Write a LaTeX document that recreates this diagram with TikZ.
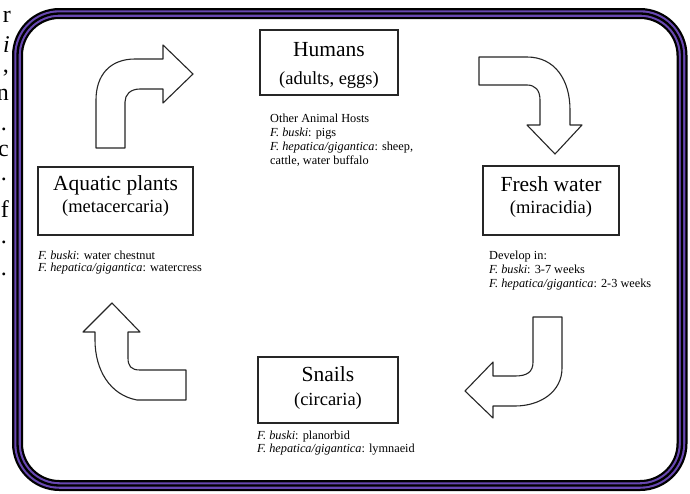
\documentclass[tikz,border=0pt]{standalone}
\usepackage{fontspec}
\setmainfont{Liberation Serif}
\definecolor{framepurple}{RGB}{104,72,178}
\tikzset{
  boxst/.style={draw=black!85, line width=1.6pt, fill=white, inner sep=0pt},
  titlest/.style={inner sep=0pt, anchor=base, font=\fontsize{21.5}{25}\selectfont},
  subst/.style={inner sep=0pt, anchor=base, font=\fontsize{18.5}{22}\selectfont},
  notest/.style={inner sep=0pt, anchor=base west, font=\fontsize{12.3}{14}\selectfont},
  arrowshape/.style={draw=black!85, line width=1.1pt, fill=white, line join=round},
  edgest/.style={inner sep=0pt, anchor=base east, font=\fontsize{24}{28}\selectfont}
}
\begin{document}
\begin{tikzpicture}[x=1pt,y=-1pt]
\useasboundingbox (0,0) rectangle (690,493);
\fill[white] (0,0) rectangle (690,493);

% cut-off text column at the left edge
\begin{scope}
\clip (0,0) rectangle (10,493);
\node[edgest] (e1) at (11,22) {r};
\node[edgest] (e2) at (10,52) {\itshape i};
\node[edgest] (e3) at (9,72) {,};
\node[edgest] (e4) at (9,100) {n};
\node[edgest] (e5) at (7,130) {.};
\node[edgest] (e6) at (9,156) {c};
\node[edgest] (e7) at (7,180) {.};
\node[edgest] (e8) at (9,217) {f};
\node[edgest] (e9) at (7,243) {.};
\node[edgest] (e10) at (7,275) {.};
\end{scope}

% frame
\draw[line width=11pt, black, rounded corners=42pt] (17.5,13.5) rectangle (682,485.5);
\draw[line width=6.5pt, framepurple, rounded corners=42pt] (17.5,13.5) rectangle (682,485.5);
\draw[line width=2.3pt, black, rounded corners=42pt] (17.5,13.5) rectangle (682,485.5);

% boxes
\node[boxst, minimum width=138pt, minimum height=65pt] (hum) at (329,62.5) {};
\node[titlest] (humT) at (329,56) {Humans};
\node[subst] (humS) at (329,84) {(adults, eggs)};

\node[boxst, minimum width=136pt, minimum height=69pt] (fw) at (551,200.5) {};
\node[titlest] (fwT) at (551,191) {Fresh water};
\node[subst] (fwS) at (551,213) {(miracidia)};

\node[boxst, minimum width=155pt, minimum height=68pt] (aq) at (115.5,201) {};
\node[titlest] (aqT) at (115.5,190) {Aquatic plants};
\node[subst] (aqS) at (115.5,212) {(metacercaria)};

\node[boxst, minimum width=140pt, minimum height=66pt] (sn) at (328,390) {};
\node[titlest] (snT) at (328,381) {Snails};
\node[subst] (snS) at (328,405) {(circaria)};

% notes
\node[notest] (h1) at (270,122) {Other Animal Hosts};
\node[notest] (h2) at (270,136) {\textit{F. buski}: pigs};
\node[notest] (h3) at (270,150) {\textit{F. hepatica/gigantica}: sheep,};
\node[notest] (h4) at (270,164) {cattle, water buffalo};

\node[notest] (f1) at (489,259) {Develop in:};
\node[notest] (f2) at (489,273) {\textit{F. buski}: 3-7 weeks};
\node[notest] (f3) at (489,287) {\textit{F. hepatica/gigantica}: 2-3 weeks};

\node[notest] (a1) at (38,259) {\textit{F. buski}: water chestnut};
\node[notest] (a2) at (38,271) {\textit{F. hepatica/gigantica}: watercress};

\node[notest] (s1) at (257,439) {\textit{F. buski}: planorbid};
\node[notest] (s2) at (257,452) {\textit{F. hepatica/gigantica}: lymnaeid};

% block arrows
\draw[arrowshape] (96,148) -- (96,100) .. controls (96,75) and (110,59) .. (135,59)
  -- (163,59) -- (163,45) -- (193,74) -- (163,103) -- (163,89) -- (140,89)
  .. controls (130,89) and (125,95) .. (125,102) -- (125,148) -- cycle;

\draw[arrowshape] (479,57) -- (527,57) .. controls (555,57) and (570,80) .. (570,110)
  -- (570,125) -- (582,125) -- (555,154) -- (527,125) -- (540,125) -- (540,100)
  .. controls (540,90) and (535,85) .. (527,85) -- (479,85) -- cycle;

\draw[arrowshape] (533,317) -- (562,317) -- (562,368) .. controls (562,392) and (540,406) .. (515,406)
  -- (493,406) -- (493,418) -- (465,391) -- (493,362) -- (493,376) -- (515,376)
  .. controls (527,376) and (533,372) .. (533,362) -- cycle;

\draw[arrowshape] (112,303) -- (140,332) -- (128,332) -- (128,358)
  .. controls (128,366) and (131,370) .. (140,370) -- (186,370) -- (186,400) -- (137,400)
  .. controls (110,395) and (95,370) .. (95,340) -- (95,332) -- (83,332) -- cycle;
\end{tikzpicture}
\end{document}
